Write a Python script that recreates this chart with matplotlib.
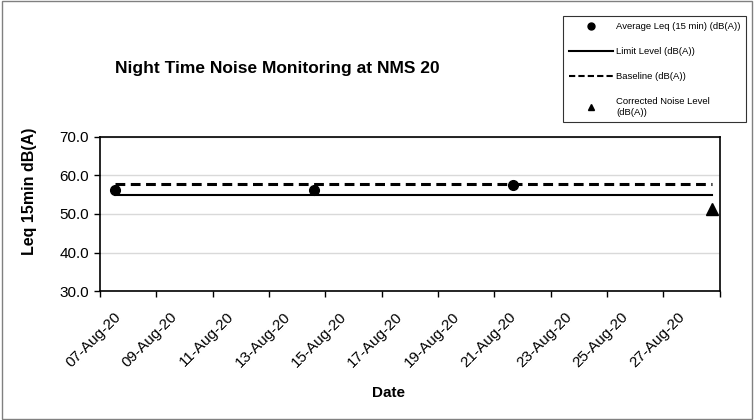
import matplotlib
matplotlib.use("Agg")
import matplotlib.pyplot as plt
import matplotlib.dates as mdates
import matplotlib.transforms as mtransforms
from matplotlib.lines import Line2D
from matplotlib.patches import Rectangle
from datetime import datetime

plt.rcParams['font.family'] = ['Liberation Sans', 'DejaVu Sans']

# Data
dates = [datetime(2020, 8, 7, 13), datetime(2020, 8, 14, 14),
         datetime(2020, 8, 21, 16), datetime(2020, 8, 28, 17)]
avg_leq = [56.3, 56.1, 57.4, None]
limit_level = [55.0, 55.0, 55.0, 55.0]
baseline = [57.7, 57.7, 57.7, 57.7]
corrected = [None, None, None, 51.4]

fig = plt.figure(figsize=(7.54, 4.2), dpi=100)
ax = fig.add_axes([0.1326, 0.307, 0.822, 0.367])

ax.plot(dates, limit_level, color='black', linewidth=1.5, label='Limit Level (dB(A))')
ax.plot(dates, baseline, color='black', linewidth=2.2, linestyle=(0, (3.2, 1.8)),
        label='Baseline (dB(A))')
d_avg = [d for d, v in zip(dates, avg_leq) if v is not None]
v_avg = [v for v in avg_leq if v is not None]
ax.plot(d_avg, v_avg, 'o', color='black', markersize=7, linestyle='none')
d_cor = [d for d, v in zip(dates, corrected) if v is not None]
v_cor = [v for v in corrected if v is not None]
ax.plot(d_cor, v_cor, '^', color='black', markersize=8, linestyle='none')

ax.set_xlim(datetime(2020, 8, 7), datetime(2020, 8, 29))
ax.set_ylim(30, 70)
ax.set_yticks([30, 40, 50, 60, 70])
ax.yaxis.set_major_formatter(plt.FormatStrFormatter('%.1f'))
ax.xaxis.set_major_locator(mdates.DayLocator(bymonthday=range(7, 30, 2)))
ax.xaxis.set_major_formatter(mdates.DateFormatter('%d-%b-%y'))
ax.tick_params(axis='both', labelsize=11, direction='out', length=4, width=1)
ax.tick_params(axis='y', pad=4)
ax.grid(axis='y', color='#d9d9d9', linewidth=1)
ax.set_axisbelow(True)
for s in ax.spines.values():
    s.set_linewidth(1.2)

# rotated date labels, shifted like Excel places them
shift = mtransforms.ScaledTranslation(10 / 72, -6 / 72, fig.dpi_scale_trans)
fig.canvas.draw()
tl = ax.get_xticklabels()
for lab in tl:
    lab.set_rotation(45)
    lab.set_ha('right')
    lab.set_rotation_mode('anchor')
    lab.set_transform(lab.get_transform() + shift)
tl[-1].set_visible(False)

fig.text(0.515, 0.064, 'Date', fontsize=11, fontweight='bold', ha='center', va='center')
fig.text(0.039, 0.545, 'Leq 15min dB(A)', fontsize=11.5, fontweight='bold',
         rotation=90, ha='center', va='center')
fig.text(0.368, 0.838, 'Night Time Noise Monitoring at NMS 20', fontsize=12.5,
         fontweight='bold', ha='center', va='center')

handles = [
    Line2D([], [], marker='o', color='black', linestyle='none', markersize=5),
    Line2D([], [], color='black', linewidth=1.5),
    Line2D([], [], color='black', linewidth=1.5, linestyle=(0, (3, 1.5))),
    Line2D([], [], marker='^', color='black', linestyle='none', markersize=4),
]
names = ['Average Leq (15 min) (dB(A))', 'Limit Level (dB(A))',
         'Baseline (dB(A))', 'Corrected Noise Level\n(dB(A))']
leg = fig.legend(handles, names, loc='upper left', bbox_to_anchor=(0.741, 0.972),
                 fontsize=6.8, frameon=True, fancybox=False, edgecolor='black',
                 handlelength=4.7, labelspacing=1.7, borderpad=0.6,
                 handletextpad=0.3)
leg.get_frame().set_linewidth(0.8)

fig.patches.append(Rectangle((0.002, 0.003), 0.996, 0.994, transform=fig.transFigure,
                             fill=False, edgecolor='#808080', linewidth=1))

fig.savefig('out.png', dpi=100)
